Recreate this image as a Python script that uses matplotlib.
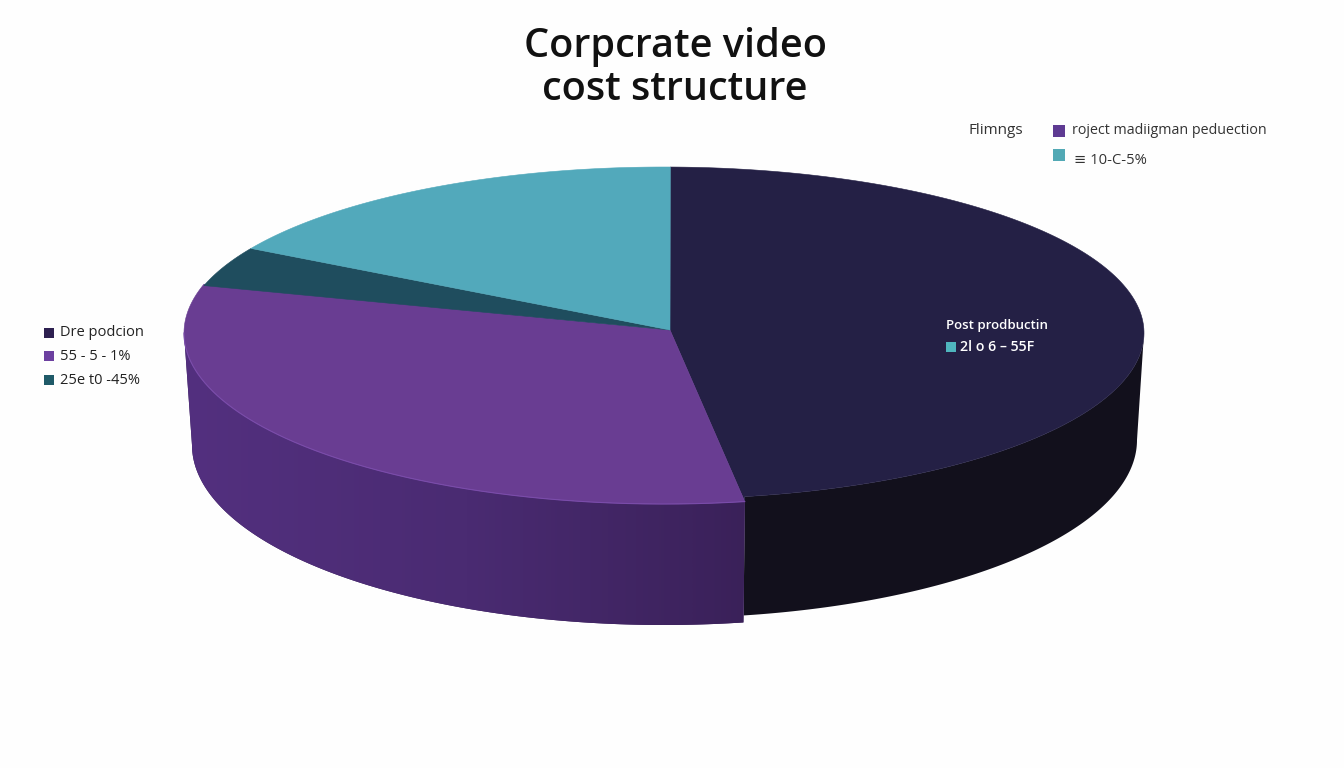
import numpy as np
import matplotlib
matplotlib.use('Agg')
import matplotlib.pyplot as plt
from matplotlib.colors import LinearSegmentedColormap

# slice shares in percent, clockwise from the top
slice_names = ['Post production', 'Pre production', 'Project management', 'Filming']
slice_values = [47.1, 32.3, 3.9, 16.7]
top_colors = ['#242045', '#693d92', '#1f4d5e', '#52a9bb']

title_lines = ['Corpcrate video', 'cost structure']
left_labels = ['Dre podcion', '55 - 5 - 1%', '25e t0 -45%']
left_colors = ['#2d2050', '#6c40a0', '#1f5a68']
right_labels = ['roject madiigman peduection', '≡ 10-C-5%']
right_colors = ['#5e3a92', '#52a9b5']
inner_labels = ['Post prodbuctin', '2l o 6 – 55F']

CX, CY, RX = 664, 333, 480
TOP_RY = [166, 171, 166, 166]
APEX = (670, 330)
START = 89.25

plt.rcParams['font.family'] = ['Open Sans', 'DejaVu Sans']

fig = plt.figure(figsize=(13.44, 7.68), dpi=100, facecolor='#fefefe')
ax = fig.add_axes([0, 0, 1, 1])
ax.set_xlim(0, 1344)
ax.set_ylim(768, 0)
ax.axis('off')


def ellipse(deg, cy, rx, ry):
    rad = np.radians(deg)
    return CX + rx * np.cos(rad), cy - ry * np.sin(rad)


# angle limits of every slice
spans = np.array(slice_values) * 3.6
ends = START - np.cumsum(spans)
starts = ends + spans

# side wall of the dark slice
ang = np.linspace(0, ends[0], 120)
x_top, y_top = ellipse(ang, CY, RX, TOP_RY[0])
x_bot, y_bot = ellipse(ang, 440, 473, 178)
ax.fill(np.r_[x_top, x_bot[::-1]], np.r_[y_top, y_bot[::-1]], color='#12101c', lw=0)

# side wall of the purple slice, lighter toward the left edge
ang = np.linspace(ends[0], -180, 160)
x_top, y_top = ellipse(ang, CY, RX, TOP_RY[1])
x_bot, y_bot = ellipse(ang, 445, 472, 180)
wall = ax.fill(np.r_[x_top, x_bot[::-1]], np.r_[y_top, y_bot[::-1]], color='#3a2159', lw=0)[0]
wall_cmap = LinearSegmentedColormap.from_list('wall', ['#53307f', '#4a2b72', '#3a2159'])
grad = ax.imshow(np.linspace(0, 1, 256).reshape(1, -1), cmap=wall_cmap, aspect='auto',
                 extent=(184, 750, 630, 340), zorder=wall.get_zorder() + 0.1)
grad.set_clip_path(wall)
ax.set_xlim(0, 1344)
ax.set_ylim(768, 0)

# top surface, the dark slice also takes the small step to the purple rim
for i, (a, b, col, ry) in enumerate(zip(starts, ends, top_colors, TOP_RY)):
    angles = np.linspace(a, b, 200)
    xs, ys = ellipse(angles, CY, RX, ry)
    if i == 0:
        x_step, y_step = ellipse(b, CY, RX, TOP_RY[1])
        xs, ys = np.r_[xs, x_step], np.r_[ys, y_step]
    ax.fill(np.r_[APEX[0], xs], np.r_[APEX[1], ys], color=col, lw=0.4, zorder=3)

# thin light rim on the purple slice
angles = np.linspace(ends[0], -180, 200)
xs, ys = ellipse(angles, CY, RX, TOP_RY[1])
ax.plot(xs, ys, color='#7a4caa', lw=0.8, zorder=3)

for y, line in zip([47, 90], title_lines):
    ax.text(675, y, line, fontsize=28.5, fontweight=600, color='#111111', ha='center', va='center')

# left legend
for y, lab, col in zip([333, 356, 380], left_labels, left_colors):
    ax.scatter([49], [y], marker='s', s=56, color=col, linewidths=0)
    ax.text(60, y, lab, fontsize=10.5, color='#222222', va='center')

# top right legend
ax.text(968, 131, 'Flimngs', fontsize=11, color='#333333', va='center')
for y, lab, col, tx, fs in zip([131, 155], right_labels, right_colors, [1072, 1074], [10.3, 10.6]):
    ax.scatter([1059], [y], marker='s', s=64, color=col, linewidths=0)
    ax.text(tx, y + (5 if y == 155 else 0), lab, fontsize=fs, color='#333333', va='center')

# label inside the dark slice
ax.text(946, 325, inner_labels[0], fontsize=9.5, fontweight=600, color='white', va='center', zorder=4)
ax.scatter([951], [347], marker='s', s=56, color='#4fb5be', linewidths=0, zorder=4)
ax.text(960, 347, inner_labels[1], fontsize=10.2, fontweight=600, color='white', va='center', zorder=4)

fig.savefig('out.png', dpi=100, facecolor=fig.get_facecolor())
